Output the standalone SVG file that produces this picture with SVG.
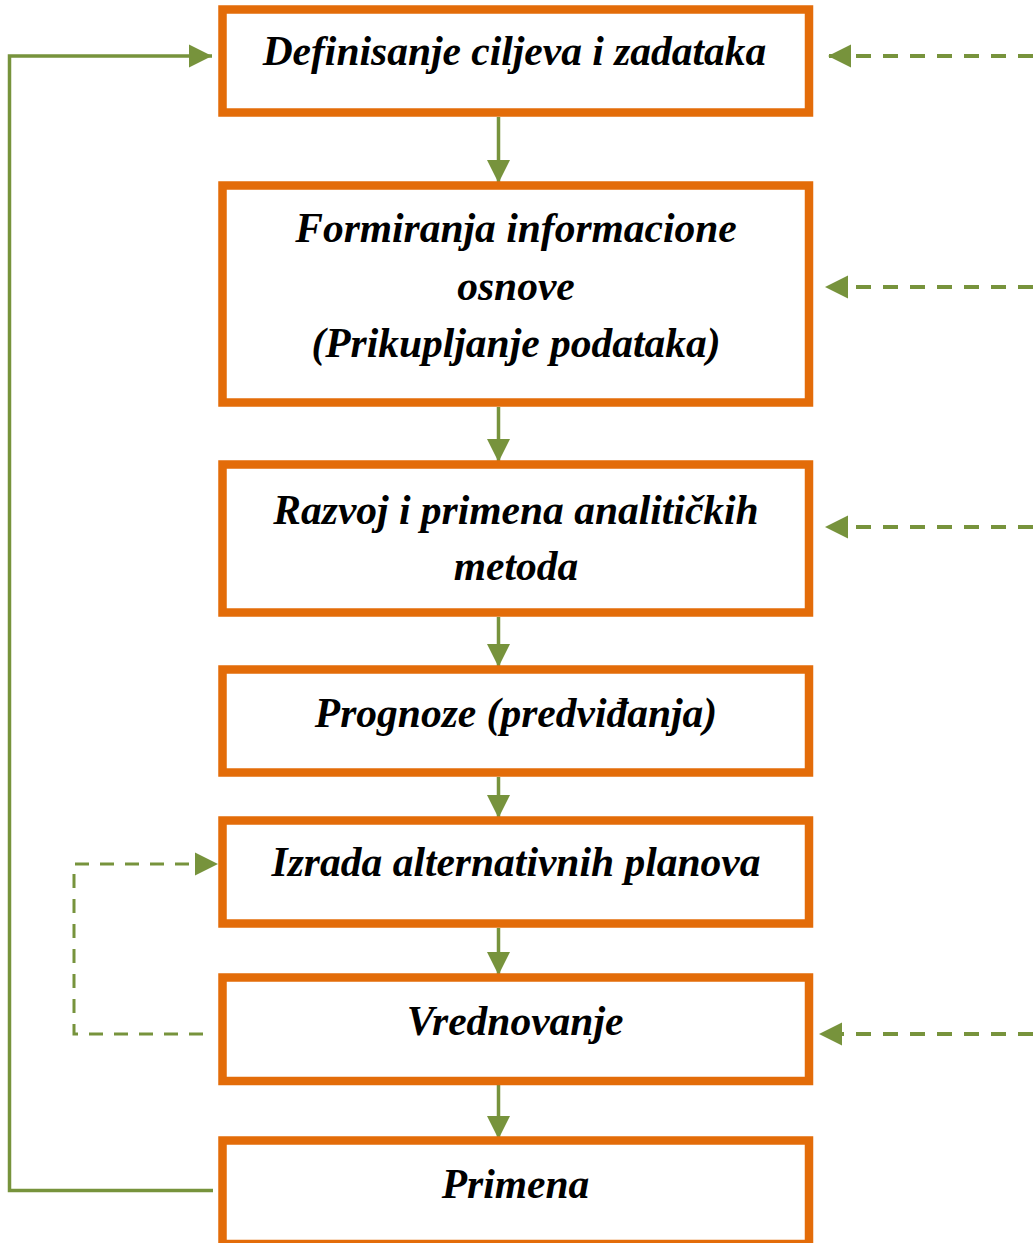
<svg xmlns="http://www.w3.org/2000/svg" width="1033" height="1243" viewBox="0 0 1033 1243">
<style>
.box{fill:#fff;stroke:#E36C09;stroke-width:8.5}
.t{font-family:"Liberation Serif","Times New Roman",serif;font-weight:bold;font-style:italic;font-size:41.5px;fill:#000;text-anchor:middle}
.c{fill:none;stroke:#77933C;stroke-width:3.5}
.d{fill:none;stroke:#77933C;stroke-width:4;stroke-dasharray:15 12}
.d2{fill:none;stroke:#77933C;stroke-width:3;stroke-dasharray:14 11}
</style>
<defs>
<marker id="ah" markerUnits="userSpaceOnUse" markerWidth="24" markerHeight="24" refX="23" refY="11.5" orient="auto" viewBox="0 0 24 23">
<path d="M0,0 L23,11.5 L0,23 Z" fill="#77933C"/>
</marker>
</defs>
<g id="connectors">
<path class="c" d="M498.5,117 V183" marker-end="url(#ah)"/>
<path class="c" d="M498.5,407 V462" marker-end="url(#ah)"/>
<path class="c" d="M498.5,617 V667" marker-end="url(#ah)"/>
<path class="c" d="M498.5,777 V818" marker-end="url(#ah)"/>
<path class="c" d="M498.5,928 V975" marker-end="url(#ah)"/>
<path class="c" d="M498.5,1085 V1139" marker-end="url(#ah)"/>
<path class="c" d="M213,1190.5 H9.5 V56 H212" marker-end="url(#ah)"/>
<path class="d2" d="M203,1034 H74 V864 H218" marker-end="url(#ah)"/>
<path class="d" d="M1033,56 H828" marker-end="url(#ah)"/>
<path class="d" d="M1033,287 H825" marker-end="url(#ah)"/>
<path class="d" d="M1033,527 H825" marker-end="url(#ah)"/>
<path class="d" d="M1033,1034 H819" marker-end="url(#ah)"/>
</g>
<g id="n1"><rect class="box" x="222.5" y="9.5" width="586.5" height="103"/><text class="t" x="514.5" y="65">Definisanje ciljeva i zadataka</text></g>
<g id="n2"><rect class="box" x="222.5" y="185.5" width="586.5" height="217"/><text class="t" x="516" y="242">Formiranja informacione</text><text class="t" x="516" y="299.5">osnove</text><text class="t" x="516" y="356.5">(Prikupljanje podataka)</text></g>
<g id="n3"><rect class="box" x="222.5" y="464.5" width="586.5" height="148"/><text class="t" x="516" y="524">Razvoj i primena analitičkih</text><text class="t" x="516" y="580">metoda</text></g>
<g id="n4"><rect class="box" x="222.5" y="669.5" width="586.5" height="103"/><text class="t" x="516" y="727">Prognoze (predviđanja)</text></g>
<g id="n5"><rect class="box" x="222.5" y="820.5" width="586.5" height="103"/><text class="t" x="516" y="876">Izrada alternativnih planova</text></g>
<g id="n6"><rect class="box" x="222.5" y="977.5" width="586.5" height="103.5"/><text class="t" x="515" y="1035">Vrednovanje</text></g>
<g id="n7"><rect class="box" x="222.5" y="1140.5" width="586.5" height="103.5"/><text class="t" x="515.5" y="1198">Primena</text></g>
</svg>
